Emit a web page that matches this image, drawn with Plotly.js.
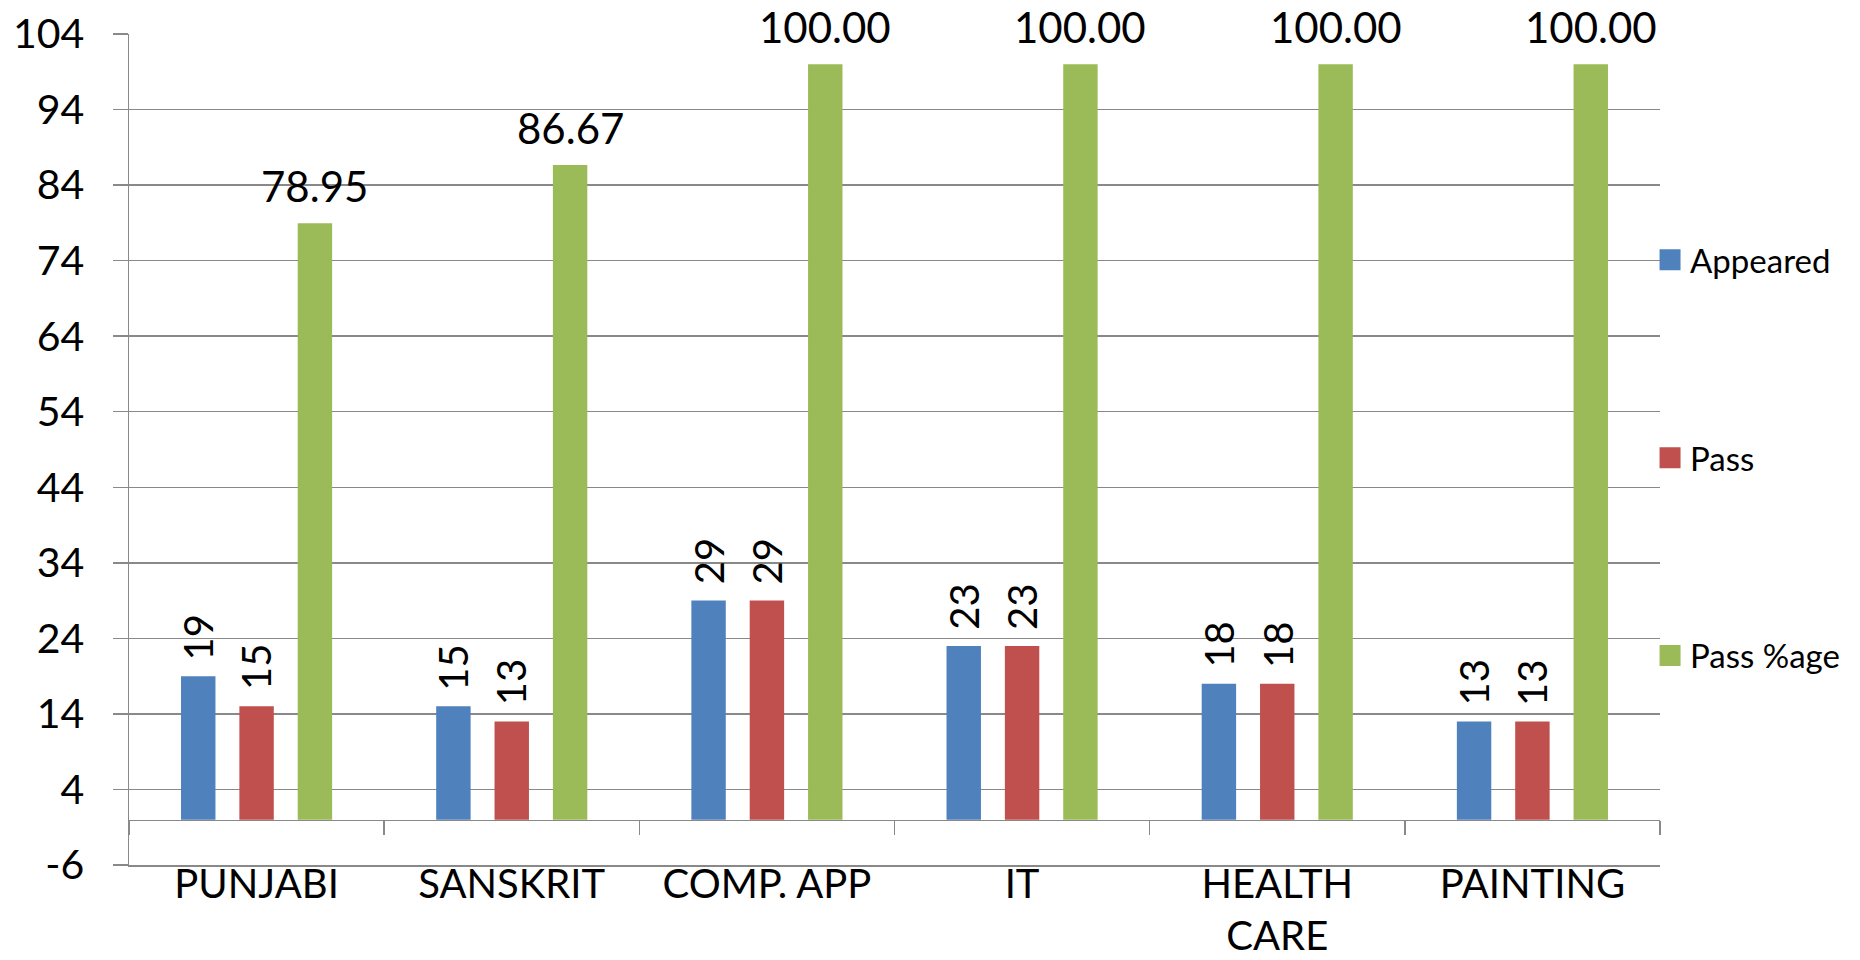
<!DOCTYPE html>
<html><head><meta charset="utf-8">
<script src="https://cdn.plot.ly/plotly-3.0.1.min.js"></script>
<style>html,body{margin:0;padding:0;background:#fff}#chart{width:1860px;height:960px}</style>
</head><body><div id="chart"></div>
<script>
const categories = ['PUNJABI', 'SANSKRIT', 'COMP. APP', 'IT', 'HEALTH CARE', 'PAINTING'];
const categoryLabels = ['PUNJABI', 'SANSKRIT', 'COMP. APP', 'IT', 'HEALTH<br>CARE', 'PAINTING'];
const appeared = [19, 15, 29, 23, 18, 13];
const pass = [15, 13, 29, 23, 18, 13];
const passPct = [78.95, 86.67, 100.00, 100.00, 100.00, 100.00];
const seriesNames = ['Appeared', 'Pass', 'Pass %age'];
const yTicks = [-6, 4, 14, 24, 34, 44, 54, 64, 74, 84, 94, 104];
const yRange = [-6, 104];

const colors = ['#4F81BD', '#C0504D', '#9BBB59'];
const GRID = '#898989';
const FONT = 'Lato, "Open Sans", sans-serif';
const BARGAP = 0.314;
const BARGROUPGAP = 0.41;

const seriesValues = [appeared, pass, passPct];

const traces = seriesValues.map((vals, s) => ({
  type: 'bar', name: seriesNames[s], x: categories, y: vals,
  marker: {color: colors[s]},
  showlegend: false,
  hoverinfo: 'x+y+name'
}));

// legend entries (bigger squares than the default bar legend symbol)
seriesNames.forEach((n, i) => {
  traces.push({
    type: 'scatter', mode: 'markers', name: n, legendgroup: n,
    x: [null], y: [null], xaxis: 'x2',
    marker: {symbol: 'square', size: 16, color: colors[i], line: {width: 5, color: colors[i]}},
    hoverinfo: 'skip'
  });
});

// data labels, positioned on each bar through the category axis
const slot = (1 - BARGAP) / seriesValues.length;
const annotations = [];
seriesValues.forEach((vals, s) => {
  const rotated = s < 2;
  vals.forEach((v, i) => {
    annotations.push({
      xref: 'x', yref: 'y', x: i + (s - 1) * slot, y: v,
      text: rotated ? String(v) : v.toFixed(2),
      showarrow: false, textangle: rotated ? -90 : 0,
      xanchor: 'center', yanchor: 'bottom', yshift: rotated ? 14 : 10,
      font: {family: FONT, size: rotated ? 40 : 42, color: '#000'}
    });
  });
});

const boundaries = categories.map((c, i) => i - 0.5).concat([categories.length - 0.5]);

const layout = {
  width: 1860, height: 960,
  margin: {l: 129, r: 200, t: 34, b: 95, pad: 0},
  paper_bgcolor: '#fff', plot_bgcolor: '#fff',
  font: {family: FONT, size: 42, color: '#000'},
  barmode: 'group', bargap: BARGAP, bargroupgap: BARGROUPGAP,
  showlegend: true,
  legend: {x: 0.9935, xanchor: 'left', y: 0.49, yanchor: 'middle', traceorder: 'grouped',
           font: {family: FONT, size: 33, color: '#000'}, tracegroupgap: 152,
           bgcolor: 'rgba(0,0,0,0)', borderwidth: 0},
  annotations: annotations,
  xaxis: {type: 'category', range: [-0.5, categories.length - 0.5], tickvals: categories, ticktext: categoryLabels,
          showgrid: false, zeroline: false, showline: true, linecolor: GRID, linewidth: 1.5,
          ticks: '', ticklabelstandoff: -17, tickfont: {family: FONT, size: 40, color: '#000'}},
  xaxis2: {overlaying: 'x', anchor: 'free', position: (0 - yRange[0]) / (yRange[1] - yRange[0]),
           range: [-0.5, categories.length - 0.5], showgrid: false, zeroline: false,
           showline: true, linecolor: GRID, linewidth: 1.5,
           ticks: 'outside', ticklen: 14, tickcolor: GRID, tickwidth: 1.5,
           tickvals: boundaries, showticklabels: false},
  yaxis: {range: yRange, tickvals: yTicks, ticktext: yTicks.map(v => String(v)),
          showgrid: true, gridcolor: GRID, gridwidth: 1.5,
          zeroline: false, showline: true, linecolor: GRID, linewidth: 1.5,
          ticks: 'outside', ticklen: 15, tickcolor: GRID, tickwidth: 1.5,
          ticklabelstandoff: 20,
          tickfont: {family: FONT, size: 41, color: '#000'}}
};

Plotly.newPlot('chart', traces, layout, {displayModeBar: false, staticPlot: true});
</script></body></html>
